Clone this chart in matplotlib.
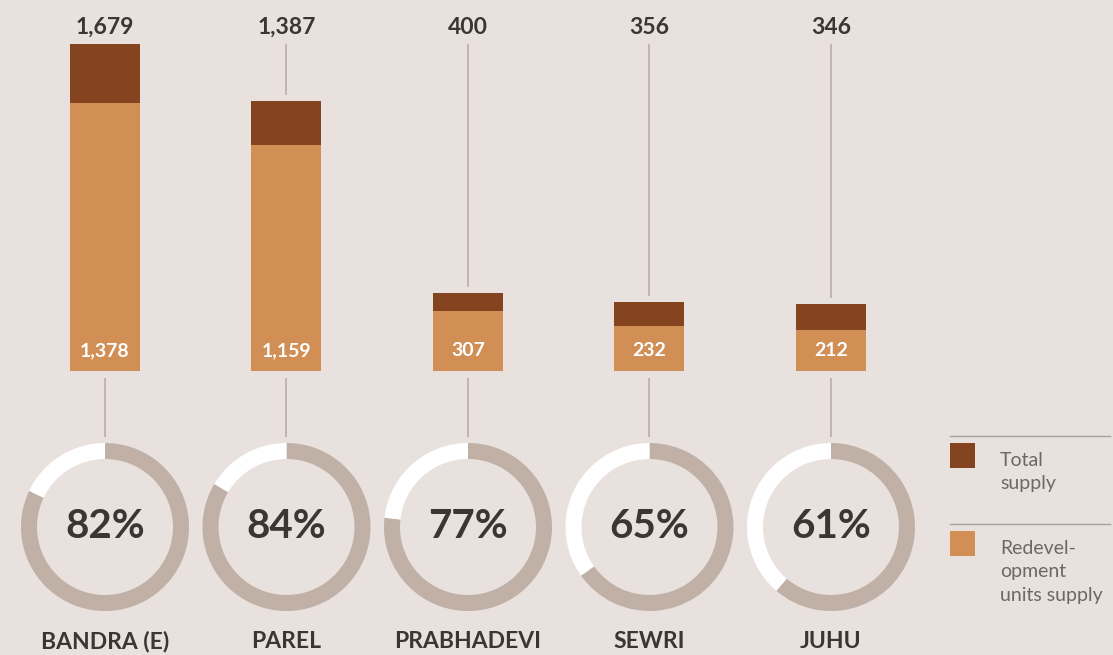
import matplotlib
matplotlib.use("Agg")
import matplotlib.pyplot as plt
import matplotlib.transforms as mtransforms
from matplotlib.patches import Rectangle

# ---- data ----
categories = ["BANDRA (E)", "PAREL", "PRABHADEVI", "SEWRI", "JUHU"]
total_supply = [1679, 1387, 400, 356, 346]
redev_supply = [1378, 1159, 307, 232, 212]
legend_labels = ["Total\nsupply", "Redevel-\nopment\nunits supply"]

# ---- style ----
BG = "#E8E1DE"
DARK = "#84441F"
LIGHT = "#D18E55"
RING = "#C0B0A6"
TEXT = "#3A3633"
LEGTXT = "#6E6763"
LINE = "#B8AEA9"
FONT = "Lato"

W, H = 1113, 655
fig = plt.figure(figsize=(W / 100, H / 100), dpi=100, facecolor=BG)

# bar axes: bottom at pixel 371, top at pixel 44
bar_bottom_px, bar_top_px = 371, 44
ax = fig.add_axes([0, (H - bar_bottom_px) / H, 1, (bar_bottom_px - bar_top_px) / H])
ax.set_facecolor("none")
spacing = 181.5
x0 = 105
ax.set_xlim(-x0 / spacing, (W - x0) / spacing)
ymax = max(total_supply)
ax.set_ylim(0, ymax)
ax.axis("off")
px = ymax / (bar_bottom_px - bar_top_px)  # data units per pixel

xs = list(range(len(categories)))
bw = 70 / spacing
ax.bar(xs, total_supply, width=bw, color=DARK, zorder=2)
ax.bar(xs, redev_supply, width=bw, color=LIGHT, zorder=3)

trans = mtransforms.blended_transform_factory(ax.transData, ax.transAxes)
for i, (t, r) in enumerate(zip(total_supply, redev_supply)):
    # top value
    ax.text(i, 1 + 17 / (bar_bottom_px - bar_top_px), f"{t:,}", transform=trans,
            ha="center", va="center", fontsize=16.5, fontweight="bold",
            color=TEXT, family=FONT)
    # line above bar
    if t + 8 * px < ymax:
        ax.vlines(i, t + 6 * px, ymax, color=LINE, lw=1.2, zorder=1)
    # inside label
    ax.text(i, 20 * px, f"{r:,}", ha="center", va="center", fontsize=14,
            fontweight="bold", color="white", family=FONT, zorder=4)
    # line below bar
    ax.vlines(i, -66 * px, -7 * px, color=LINE, lw=1.2, clip_on=False)

# donuts
cy = 527
R = 84
for i, (t, r) in enumerate(zip(total_supply, redev_supply)):
    cx = x0 + i * spacing
    pax = fig.add_axes([(cx - R) / W, (H - cy - R) / H, (2 * R) / W, (2 * R) / H])
    pct = r / t * 100
    pax.pie([pct, 100 - pct], startangle=90, counterclock=False,
            colors=[RING, "white"], radius=1,
            wedgeprops=dict(width=16 / R, linewidth=0))
    pax.set_xlim(-1, 1)
    pax.set_ylim(-1, 1)
    pax.set_aspect("equal")
    pax.set_facecolor("none")
    pax.text(0, 0, f"{round(pct)}%", ha="center", va="center", fontsize=29,
             fontweight="bold", color=TEXT, family=FONT)
    fig.text(cx / W, (H - 641) / H, categories[i], ha="center", va="center",
             fontsize=16.5, fontweight="bold", color=TEXT, family=FONT)

# legend
lax = fig.add_axes([0, 0, 1, 1])
lax.set_xlim(0, W)
lax.set_ylim(H, 0)
lax.axis("off")
lax.set_facecolor("none")
for k, (col, lab, ly) in enumerate(zip([DARK, LIGHT], legend_labels, [436, 524])):
    lax.plot([950, 1110], [ly, ly], color="#A9A19D", lw=1)
    lax.add_patch(Rectangle((950, ly + 7), 25, 25, color=col, lw=0))
    lax.text(1000, ly + 16, lab, ha="left", va="top", fontsize=14,
             color=LEGTXT, family=FONT, linespacing=1.45)

fig.savefig("out.png", dpi=100, facecolor=BG)
